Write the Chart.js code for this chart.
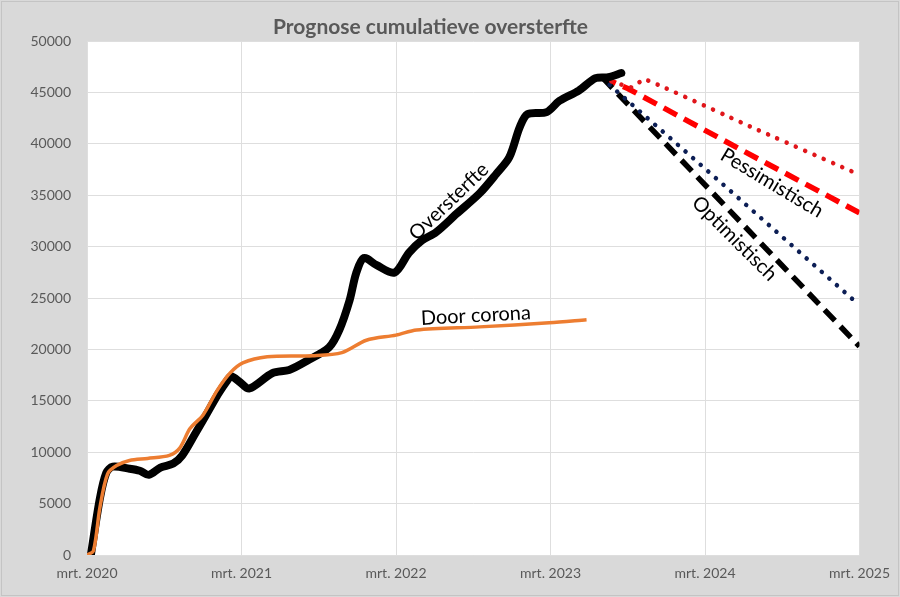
<!DOCTYPE html>
<html>
<head>
<meta charset="utf-8">
<script src="https://cdn.jsdelivr.net/npm/chart.js@4/dist/chart.umd.min.js"></script>
<style>
  html, body { margin: 0; padding: 0; background: #d9d9d9; }
  #wrap { width: 900px; height: 597px; }
</style>
</head>
<body>
<div id="wrap"><canvas id="prognoseChart"></canvas></div>
<script>
// months since mrt. 2020
const oversterfteMonths = [0.3, 1.0, 1.5, 2.0, 3.3, 4.1, 4.8, 5.7, 6.7, 7.4, 8.4, 9.1, 10.2, 10.9, 11.2, 11.9, 12.6, 14.4, 15.7, 17.1, 18.8, 19.6, 20.4, 20.9, 21.5, 22.5, 23.9, 25.0, 26.0, 27.1, 28.7, 30.5, 31.8, 32.8, 33.6, 34.2, 35.7, 36.7, 38.2, 39.5, 40.5, 41.5];
const oversterfteValues = [0, 5500, 8000, 8600, 8400, 8200, 7800, 8500, 8900, 9700, 11800, 13300, 15700, 17000, 17400, 16800, 16200, 17700, 18000, 18900, 20200, 21900, 24800, 27400, 28900, 28200, 27500, 29400, 30600, 31400, 33200, 35200, 37100, 38700, 41600, 42900, 43100, 44200, 45200, 46400, 46500, 46900];

const coronaMonths = [0, 0.5, 1.0, 1.6, 2.3, 3.3, 4.7, 6.4, 7.2, 8.0, 9.0, 10.1, 11.1, 12.1, 14.0, 17.5, 19.8, 21.7, 24.0, 25.6, 30.5, 35.9, 38.8];
const coronaValues = [0, 400, 4600, 7900, 8700, 9200, 9400, 9700, 10400, 12300, 13600, 16000, 17700, 18700, 19300, 19400, 19700, 20900, 21400, 21900, 22200, 22600, 22900];

const pessDashMonths = [40, 42, 51, 60];
const pessDashValues = [46500, 45400, 39300, 33300];

const pessDotMonths = [40, 42.3, 43.3, 51.5, 60];
const pessDotValues = [46400, 45500, 46300, 41700, 37000];

const optDotMonths = [40, 50, 60];
const optDotValues = [46400, 35400, 24300];

const optDashMonths = [40, 60];
const optDashValues = [46500, 20300];

const xTicks = [0, 12, 24, 36, 48, 60];
const tickYears = ["mrt. 2020", "mrt. 2021", "mrt. 2022", "mrt. 2023", "mrt. 2024", "mrt. 2025"];

const labels = [
  { text: "Oversterfte", x: 28.1, y: 34400, angle: -44 },
  { text: "Door corona", x: 30.2, y: 23300, angle: -3 },
  { text: "Pessimistisch", x: 53.2, y: 36200, angle: 31 },
  { text: "Optimistisch", x: 50.3, y: 30800, angle: 45 }
];

const pts = (xs, ys) => xs.map((x, i) => ({ x: x, y: ys[i] }));

const background = {
  id: "background",
  beforeDraw(chart) {
    const c = chart.ctx, a = chart.chartArea;
    c.save();
    c.fillStyle = "#d9d9d9";
    c.fillRect(0, 0, chart.width, chart.height);
    c.strokeStyle = "#c4c4c4";
    c.lineWidth = 1;
    c.strokeRect(1.5, 1.5, chart.width - 3, chart.height - 3);
    c.fillStyle = "#ffffff";
    c.fillRect(a.left, a.top, a.right - a.left, a.bottom - a.top);
    c.restore();
  }
};

const textLabels = {
  id: "textLabels",
  afterDatasetsDraw(chart) {
    const c = chart.ctx;
    c.save();
    c.font = "20px Lato";
    c.fillStyle = "#000000";
    c.textAlign = "center";
    c.textBaseline = "middle";
    labels.forEach(l => {
      const px = chart.scales.x.getPixelForValue(l.x);
      const py = chart.scales.y.getPixelForValue(l.y);
      c.save();
      c.translate(px, py);
      c.rotate(l.angle * Math.PI / 180);
      c.fillText(l.text, 0, 0);
      c.restore();
    });
    c.restore();
  }
};

const ctx = document.getElementById("prognoseChart");

new Chart(ctx, {
  type: "line",
  data: {
    datasets: [
      {
        label: "Door corona",
        data: pts(coronaMonths, coronaValues),
        borderColor: "#ED7D31",
        borderWidth: 3.5,
        tension: 0.3
      },
      {
        label: "Oversterfte",
        data: pts(oversterfteMonths, oversterfteValues),
        borderColor: "#000000",
        borderWidth: 8,
        borderCapStyle: "round",
        borderJoinStyle: "round",
        tension: 0.3
      },
      {
        label: "Pessimistisch hoog",
        data: pts(pessDotMonths, pessDotValues),
        borderColor: "#E0161B",
        borderWidth: 4.5,
        borderCapStyle: "round",
        borderDash: [0.1, 10],
        tension: 0.1
      },
      {
        label: "Optimistisch laag",
        data: pts(optDotMonths, optDotValues),
        borderColor: "#0C1E55",
        borderWidth: 4.5,
        borderCapStyle: "round",
        borderDash: [0.1, 10],
        tension: 0
      },
      {
        label: "Optimistisch",
        data: pts(optDashMonths, optDashValues),
        borderColor: "#000000",
        borderWidth: 5.5,
        borderDash: [15, 8],
        tension: 0
      },
      {
        label: "Pessimistisch",
        data: pts(pessDashMonths, pessDashValues),
        borderColor: "#FF0000",
        borderWidth: 5.5,
        borderDash: [15, 8],
        tension: 0
      }
    ]
  },
  options: {
    responsive: true,
    maintainAspectRatio: false,
    animation: false,
    elements: { point: { radius: 0 } },
    layout: { padding: { left: 0, right: 39, top: 0, bottom: 0 } },
    plugins: {
      legend: { display: false },
      tooltip: { enabled: false },
      title: {
        display: true,
        text: "Prognose cumulatieve oversterfte",
        color: "#595959",
        font: { family: "Lato", size: 21, weight: "bold" },
        padding: { top: 15, bottom: 1 }
      }
    },
    scales: {
      x: {
        type: "linear",
        min: 0,
        max: 60,
        afterBuildTicks: scale => { scale.ticks = xTicks.map(v => ({ value: v })); },
        afterFit: scale => { scale.height = 42; },
        ticks: {
          color: "#595959",
          font: { family: "Lato", size: 14 },
          maxRotation: 0,
          padding: 10,
          callback: v => tickYears[xTicks.indexOf(v)]
        },
        grid: { color: "#dedede", drawTicks: false },
        border: { display: false }
      },
      y: {
        min: 0,
        max: 50000,
        afterFit: scale => { scale.width = 87; },
        ticks: {
          stepSize: 5000,
          color: "#595959",
          font: { family: "Lato", size: 14 },
          padding: 16,
          callback: v => String(v)
        },
        grid: { color: "#dedede", drawTicks: false },
        border: { display: false }
      }
    }
  },
  plugins: [background, textLabels]
});
</script>
</body>
</html>
